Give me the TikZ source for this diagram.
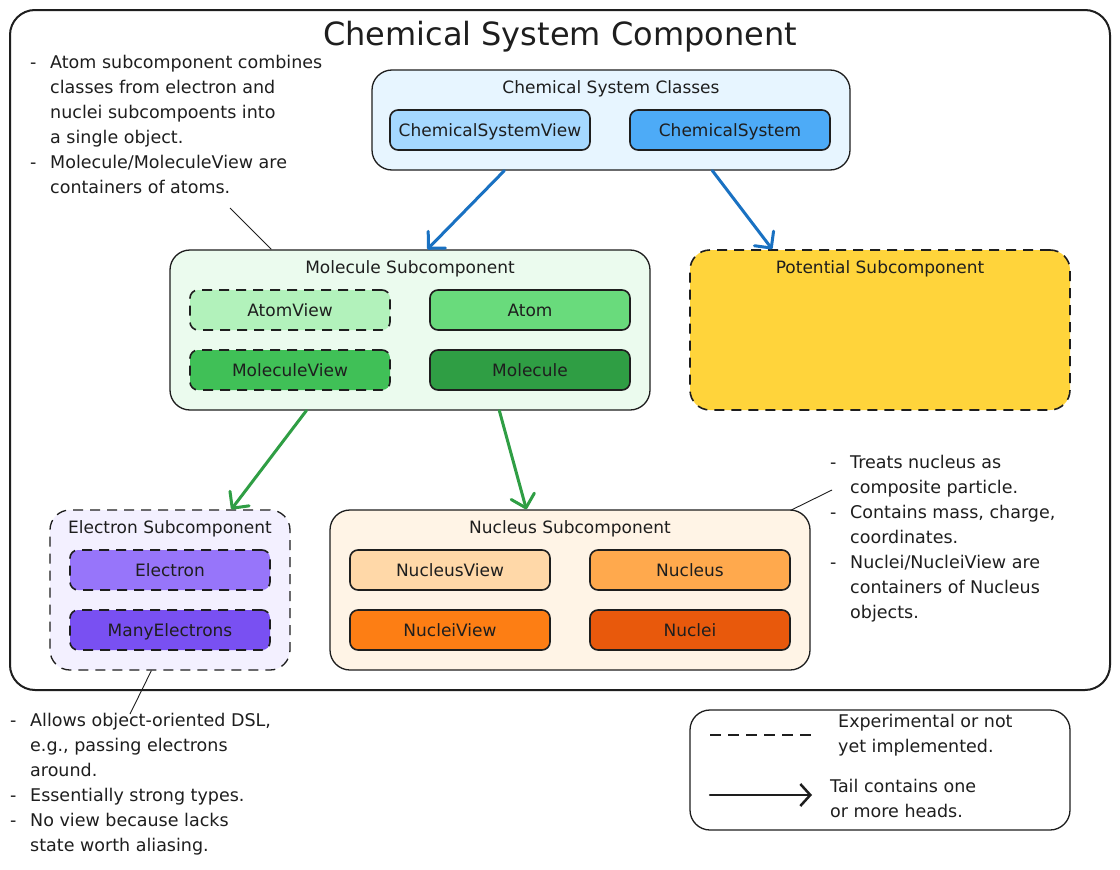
\documentclass[tikz,border=0pt]{standalone}
\usepackage{fontspec}
\setmainfont{DejaVu Sans}
\usetikzlibrary{arrows.meta}
\definecolor{ink}{HTML}{1E1E1E}
\definecolor{blueBg}{HTML}{E7F5FF}
\definecolor{blueA}{HTML}{A5D8FF}
\definecolor{blueB}{HTML}{4DABF7}
\definecolor{blueArr}{HTML}{1971C2}
\definecolor{greenBg}{HTML}{EBFBEE}
\definecolor{greenA}{HTML}{B2F2BB}
\definecolor{greenB}{HTML}{69DB7C}
\definecolor{greenC}{HTML}{40C057}
\definecolor{greenD}{HTML}{2F9E44}
\definecolor{yellowA}{HTML}{FFD43B}
\definecolor{violetBg}{HTML}{F3F0FF}
\definecolor{violetA}{HTML}{9775FA}
\definecolor{violetB}{HTML}{7950F2}
\definecolor{orangeBg}{HTML}{FFF4E6}
\definecolor{orangeA}{HTML}{FFD8A8}
\definecolor{orangeB}{HTML}{FFA94D}
\definecolor{orangeC}{HTML}{FD7E14}
\definecolor{orangeD}{HTML}{E8590C}
\newcommand\myfont{\fontsize{17}{25}\selectfont}
\newcommand\notefont{\fontsize{17.5}{25}\selectfont}
\newcommand\mytitlefont{\fontsize{32}{36}\selectfont}
\newcommand\bul{\makebox[20pt][l]{-}}
\newcommand\ind{\hspace*{20pt}}
\begin{document}
\begin{tikzpicture}[x=1pt,y=-1pt,
  frame/.style={draw=ink, line width=2pt, rounded corners=25pt, inner sep=0pt},
  group/.style={draw=ink, line width=1.3pt, rounded corners=20pt, inner sep=0pt},
  cls/.style={draw=ink, line width=1.6pt, rounded corners=8pt, minimum width=200pt, minimum height=40pt, inner sep=0pt, font=\myfont, text=ink, text height=12.5pt, text depth=0pt},
  gtitle/.style={font=\myfont, text=ink, inner sep=0pt, text height=12.5pt, text depth=0pt},
  expl/.style={dash pattern=on 10pt off 7pt},
  note/.style={font=\notefont, text=ink, align=left, inner sep=0pt, anchor=north west},
  arr/.style={line width=3pt, line cap=round, -{Straight Barb[length=12pt, width=24pt, line cap=round, line join=round]}},
  pointer/.style={draw=ink, line width=0.9pt}
]
\useasboundingbox (0,0) rectangle (1120,870);
\fill[white] (0,0) rectangle (1120,870);

% outer frame
\node[frame, minimum width=1100pt, minimum height=680pt] (frame) at (560,350) {};
\node[font=\mytitlefont, text=ink, inner sep=0pt] (title) at (560,37) {Chemical System Component};

% Chemical System Classes
\node[group, fill=blueBg, minimum width=478pt, minimum height=100pt] (csc) at (611,120) {};
\node[gtitle] (csct) at (611,87) {Chemical System Classes};
\node[cls, fill=blueA] (csv) at (490,130) {ChemicalSystemView};
\node[cls, fill=blueB] (cs) at (730,130) {ChemicalSystem};

% Molecule Subcomponent
\node[group, fill=greenBg, minimum width=480pt, minimum height=160pt] (mol) at (410,330) {};
\node[gtitle] (molt) at (410,267) {Molecule Subcomponent};
\node[cls, expl, fill=greenA] (atomview) at (290,310) {AtomView};
\node[cls, fill=greenB] (atom) at (530,310) {Atom};
\node[cls, expl, fill=greenC] (molview) at (290,370) {MoleculeView};
\node[cls, fill=greenD] (molecule) at (530,370) {Molecule};

% Potential Subcomponent
\node[group, expl, line width=1.6pt, fill=yellowA, minimum width=380pt, minimum height=160pt] (pot) at (880,330) {};
\node[gtitle] (pott) at (880,267) {Potential Subcomponent};

% Electron Subcomponent
\node[group, expl, fill=violetBg, minimum width=240pt, minimum height=160pt] (ele) at (170,590) {};
\node[gtitle] (elet) at (170,527) {Electron Subcomponent};
\node[cls, expl, fill=violetA] (electron) at (170,570) {Electron};
\node[cls, expl, fill=violetB] (manyel) at (170,630) {ManyElectrons};

% Nucleus Subcomponent
\node[group, fill=orangeBg, minimum width=480pt, minimum height=160pt] (nuc) at (570,590) {};
\node[gtitle] (nuct) at (570,527) {Nucleus Subcomponent};
\node[cls, fill=orangeA] (nucview) at (450,570) {NucleusView};
\node[cls, fill=orangeB] (nucleus) at (690,570) {Nucleus};
\node[cls, fill=orangeC] (nucleiview) at (450,630) {NucleiView};
\node[cls, fill=orangeD] (nuclei) at (690,630) {Nuclei};

% flow arrows
\draw[arr, blueArr] ([xshift=133pt]csc.south west) -- ([xshift=258pt]mol.north west);
\draw[arr, blueArr] ([xshift=341pt]csc.south west) -- ([xshift=83pt]pot.north west);
\draw[arr, greenD] ([xshift=137pt]mol.south west) -- ([xshift=182pt]ele.north west);
\draw[arr, greenD] ([xshift=330pt]mol.south west) -- ([xshift=197pt]nuc.north west);

% notes
\node[note] (note1) at (30,55) {\bul Atom subcomponent combines\\\ind classes from electron and\\\ind nuclei subcompoents into\\\ind a single object.\\\bul Molecule/MoleculeView are\\\ind containers of atoms.};
\coordinate (n1p) at (230,208);
\draw[pointer] (n1p) -- ([xshift=102pt]mol.north west);

\node[note] (note2) at (830,455) {\bul Treats nucleus as\\\ind composite particle.\\\bul Contains mass, charge,\\\ind coordinates.\\\bul Nuclei/NucleiView are\\\ind containers of Nucleus\\\ind objects.};
\coordinate (n2p) at (832,490);
\draw[pointer] (n2p) -- ([xshift=-20pt,yshift=-1pt]nuc.north east);

\node[note] (note3) at (10,713) {\bul Allows object-oriented DSL,\\\ind e.g., passing electrons\\\ind around.\\\bul Essentially strong types.\\\bul No view because lacks\\\ind state worth aliasing.};
\coordinate (n3p) at (130,714);
\draw[pointer] (n3p) -- ([xshift=102pt]ele.south west);

% legend
\node[group, minimum width=380pt, minimum height=120pt] (legend) at (880,770) {};
\coordinate (l1a) at (710,735);
\coordinate (l1b) at (812,735);
\draw[ink, line width=2pt, dash pattern=on 11pt off 7pt] (l1a) -- (l1b);
\node[note] (l1t) at (838,714) {Experimental or not\\yet implemented.};
\coordinate (l2a) at (710,795);
\coordinate (l2b) at (812,795);
\draw[ink, line width=2.5pt, line cap=round, -{Straight Barb[length=10pt, width=22pt]}] (l2a) -- (l2b);
\node[note] (l2t) at (830,779) {Tail contains one\\or more heads.};
\end{tikzpicture}
\end{document}
